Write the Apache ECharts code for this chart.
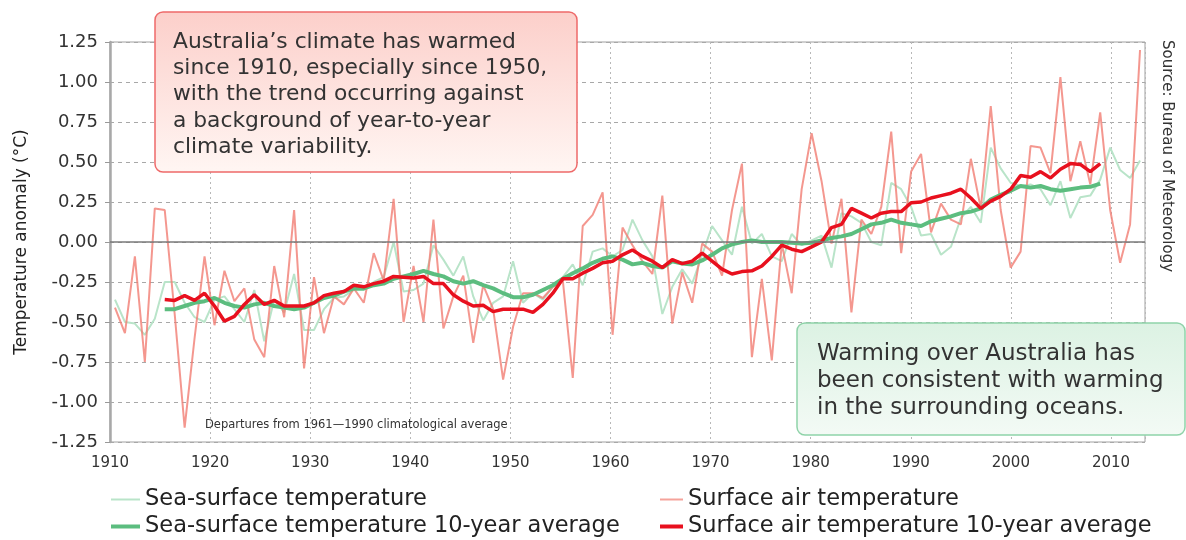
<!DOCTYPE html>
<html>
<head>
<meta charset="utf-8">
<script src="https://cdn.jsdelivr.net/npm/echarts@6/dist/echarts.min.js"></script>
<style>
  html, body { margin: 0; padding: 0; background: #fff; }
  #chart { width: 1186px; height: 540px; }
</style>
</head>
<body>
<div id="chart"></div>
<script>
// annual anomalies, 1910-2013
const firstYear = 1910
const surfaceAir = [
  -0.41, -0.57, -0.09, -0.75, 0.21, 0.20, -0.45, -1.16, -0.60, -0.09,
  -0.52, -0.18, -0.37, -0.29, -0.61, -0.72, -0.15, -0.47, 0.20, -0.79,
  -0.22, -0.57, -0.34, -0.39, -0.29, -0.38, -0.07, -0.24, 0.27, -0.50,
  -0.15, -0.50, 0.14, -0.54, -0.34, -0.21, -0.63, -0.27, -0.42, -0.86,
  -0.53, -0.32, -0.32, -0.35, -0.28, -0.24, -0.85, 0.10, 0.17, 0.31,
  -0.58, 0.09, -0.02, -0.12, -0.20, 0.29, -0.51, -0.19, -0.38, -0.01,
  -0.06, -0.21, 0.20, 0.49, -0.72, -0.23, -0.74, -0.01, -0.32, 0.33,
  0.68, 0.38, -0.01, 0.27, -0.44, 0.14, 0.05, 0.22, 0.69, -0.07,
  0.44, 0.55, 0.06, 0.24, 0.14, 0.11, 0.52, 0.21, 0.85, 0.20,
  -0.16, -0.06, 0.60, 0.59, 0.43, 1.03, 0.38, 0.63, 0.36, 0.81,
  0.20, -0.13, 0.11, 1.20,
]
const seaSurface = [
  -0.36, -0.50, -0.51, -0.58, -0.48, -0.25, -0.25, -0.38, -0.47, -0.50,
  -0.36, -0.34, -0.42, -0.50, -0.30, -0.62, -0.36, -0.44, -0.20, -0.55,
  -0.55, -0.42, -0.35, -0.34, -0.30, -0.30, -0.25, -0.22, 0.00, -0.31,
  -0.30, -0.26, -0.02, -0.11, -0.21, -0.09, -0.34, -0.49, -0.38, -0.34,
  -0.12, -0.38, -0.32, -0.36, -0.28, -0.22, -0.14, -0.27, -0.06, -0.04,
  -0.09, -0.05, 0.14, 0.01, -0.09, -0.45, -0.28, -0.17, -0.26, -0.08,
  0.10, 0.01, -0.08, 0.22, -0.01, 0.05, -0.09, -0.12, 0.05, -0.02,
  0.01, 0.04, -0.16, 0.18, 0.16, 0.12, 0.00, -0.02, 0.37, 0.33,
  0.22, 0.04, 0.05, -0.08, -0.03, 0.15, 0.22, 0.12, 0.59, 0.46,
  0.37, 0.35, 0.36, 0.33, 0.23, 0.38, 0.15, 0.28, 0.29, 0.39,
  0.59, 0.45, 0.40, 0.51,
]

// 10-year averages, 1915-2009
const avgFirstYear = 1915
const surfaceAirAvg = [
  -0.36, -0.365, -0.335, -0.365, -0.32, -0.40, -0.495, -0.465, -0.39, -0.33,
  -0.39, -0.365, -0.40, -0.40, -0.40, -0.38, -0.335, -0.32, -0.31, -0.27,
  -0.28, -0.26, -0.245, -0.215, -0.22, -0.225, -0.215, -0.26, -0.26, -0.33,
  -0.37, -0.40, -0.395, -0.435, -0.42, -0.42, -0.42, -0.44, -0.39, -0.32,
  -0.23, -0.23, -0.195, -0.165, -0.13, -0.12, -0.08, -0.05, -0.09, -0.12,
  -0.16, -0.11, -0.135, -0.12, -0.07, -0.12, -0.17, -0.20, -0.185, -0.18,
  -0.15, -0.09, -0.02, -0.045, -0.06, -0.03, 0.00, 0.09, 0.11, 0.21,
  0.18, 0.15, 0.18, 0.19, 0.19, 0.245, 0.25, 0.275, 0.29, 0.305,
  0.33, 0.275, 0.21, 0.255, 0.285, 0.33, 0.415, 0.405, 0.44, 0.40,
  0.455, 0.49, 0.485, 0.44, 0.49,
]
const seaSurfaceAvg = [
  -0.42, -0.42, -0.40, -0.38, -0.37, -0.35, -0.38, -0.40, -0.41, -0.39,
  -0.38, -0.40, -0.41, -0.42, -0.41, -0.38, -0.35, -0.335, -0.31, -0.29,
  -0.29, -0.27, -0.26, -0.23, -0.215, -0.20, -0.18, -0.20, -0.215, -0.245,
  -0.26, -0.245, -0.27, -0.29, -0.32, -0.345, -0.345, -0.33, -0.30, -0.27,
  -0.23, -0.195, -0.165, -0.13, -0.105, -0.09, -0.11, -0.14, -0.13, -0.15,
  -0.16, -0.12, -0.135, -0.14, -0.115, -0.08, -0.04, -0.015, 0.00, 0.01,
  0.00, 0.00, 0.00, -0.005, -0.01, -0.005, 0.01, 0.025, 0.035, 0.05,
  0.08, 0.11, 0.12, 0.14, 0.12, 0.11, 0.10, 0.13, 0.145, 0.16,
  0.18, 0.19, 0.21, 0.265, 0.295, 0.32, 0.35, 0.34, 0.35, 0.33,
  0.32, 0.33, 0.34, 0.345, 0.365,
]

const yMin = -1.25
const yMax = 1.25
const yStep = 0.25
const xTickStep = 10

const font = 'DejaVu Sans'

function toPairs(start, values) {
  return values.map((v, i) => [start + i, v])
}

// one legend per entry so each can carry its own line thickness
function legendItem(name, left, top, width, thickness) {
  return {
    left, top, icon: 'rect',
    itemWidth: width, itemHeight: thickness,
    textStyle: { color: '#222', fontFamily: font, fontSize: 22.5 },
    data: [name],
  }
}

const chart = echarts.init(document.getElementById('chart'))

chart.setOption({
  animation: false,
  grid: {
    left: 110, top: 42, right: 41, bottom: 98,
    show: true, borderColor: '#a0a0a0', borderWidth: 1,
  },
  xAxis: [
    {
      type: 'value',
      min: 1910, max: 2013.4, interval: xTickStep,
      axisLine: { show: false },
      axisTick: { show: false },
      axisLabel: {
        color: '#333', fontFamily: font, fontSize: 15, margin: 14,
        showMaxLabel: false,
        formatter: (v) => String(v),
      },
      splitLine: { show: true, lineStyle: { color: '#b8b8b8', type: [2, 3], width: 1 } },
    },
    {
      // years sit a little inside the frame, as in the original plot
      type: 'value', min: 1909.5, max: 2013.5, show: false,
    },
  ],
  yAxis: {
    type: 'value',
    min: yMin, max: yMax, interval: yStep,
    name: 'Temperature anomaly (°C)',
    nameLocation: 'middle',
    nameGap: 80,
    nameTextStyle: { color: '#222', fontFamily: font, fontSize: 17 },
    axisLine: { show: true, lineStyle: { color: '#a8a8a8', width: 2.5 } },
    axisTick: { show: true, length: 5, lineStyle: { color: '#999' } },
    axisLabel: {
      color: '#333', fontFamily: font, fontSize: 18, margin: 12,
      formatter: (v) => v.toFixed(2),
    },
    splitLine: { show: true, lineStyle: { color: '#a8a8a8', type: [4, 4], width: 1 } },
  },
  legend: [
    legendItem('Sea-surface temperature', 106, 483, 29, 2),
    legendItem('Sea-surface temperature 10-year average', 106, 510, 29, 4),
    legendItem('Surface air temperature', 655, 483, 23, 2),
    legendItem('Surface air temperature 10-year average', 655, 510, 23, 4),
  ],
  graphic: [
    {
      type: 'rect', z: 100,
      shape: { x: 155, y: 12, width: 422, height: 160, r: 8 },
      style: {
        fill: new echarts.graphic.LinearGradient(0, 0, 0, 1, [
          { offset: 0, color: '#fccfca' },
          { offset: 1, color: '#fff6f3' },
        ]),
        stroke: '#ee6a6a', lineWidth: 1.5,
      },
    },
    {
      type: 'text', z: 101, x: 173, y: 29,
      style: {
        text: 'Australia\u2019s climate has warmed\nsince 1910, especially since 1950,\nwith the trend occurring against\na background of year-to-year\nclimate variability.',
        fill: '#333', font: '21.8px "DejaVu Sans"', lineHeight: 26.3,
        verticalAlign: 'top',
      },
    },
    {
      type: 'rect', z: 100,
      shape: { x: 797, y: 323, width: 388, height: 112, r: 8 },
      style: {
        fill: new echarts.graphic.LinearGradient(0, 0, 0, 1, [
          { offset: 0, color: '#dcf2e3' },
          { offset: 1, color: '#f3faf5' },
        ]),
        stroke: '#8fd3a9', lineWidth: 1.5,
      },
    },
    {
      type: 'text', z: 101, x: 817, y: 340.5,
      style: {
        text: 'Warming over Australia has\nbeen consistent with warming\nin the surrounding oceans.',
        fill: '#333', font: '23px "DejaVu Sans"', lineHeight: 27,
        verticalAlign: 'top',
      },
    },
    {
      type: 'text', z: 101, x: 205, y: 425,
      style: {
        text: 'Departures from 1961\u20141990 climatological average',
        fill: '#333', font: '11.5px "DejaVu Sans"', verticalAlign: 'middle',
      },
    },
    {
      type: 'text', z: 101, x: 1167, y: 40, rotation: -Math.PI / 2,
      style: {
        text: 'Source: Bureau of Meteorology',
        fill: '#333', font: '15px "DejaVu Sans"', verticalAlign: 'middle',
      },
    },
  ],
  series: [
    {
      name: 'Sea-surface temperature', type: 'line', xAxisIndex: 1,
      symbol: 'none', data: toPairs(firstYear, seaSurface),
      lineStyle: { color: '#b9e4c9', width: 2 }, itemStyle: { color: '#b9e4c9' },
      markLine: {
        silent: true, symbol: ['none', 'none'], label: { show: false },
        lineStyle: { color: '#7a7a7a', width: 1.5, type: 'solid' },
        data: [{ yAxis: 0 }],
      },
    },
    {
      name: 'Surface air temperature', type: 'line', xAxisIndex: 1,
      symbol: 'none', data: toPairs(firstYear, surfaceAir),
      lineStyle: { color: 'rgba(241,125,115,0.8)', width: 2 }, itemStyle: { color: '#f5a39b' },
    },
    {
      name: 'Sea-surface temperature 10-year average', type: 'line', xAxisIndex: 1,
      symbol: 'none', data: toPairs(avgFirstYear, seaSurfaceAvg),
      lineStyle: { color: '#5cbd7f', width: 4 }, itemStyle: { color: '#5cbd7f' },
    },
    {
      name: 'Surface air temperature 10-year average', type: 'line', xAxisIndex: 1,
      symbol: 'none', data: toPairs(avgFirstYear, surfaceAirAvg),
      lineStyle: { color: '#e8101e', width: 3.5 }, itemStyle: { color: '#e8101e' },
    },
  ],
})
</script>
</body>
</html>
